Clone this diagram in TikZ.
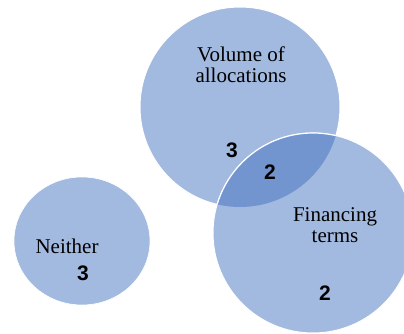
\documentclass[tikz,border=0pt]{standalone}
\usepackage{fontspec}
\setmainfont{Liberation Serif}
\newfontfamily\numfont{Liberation Sans}
\definecolor{vfill}{RGB}{162,185,224}
\definecolor{vover}{RGB}{114,149,207}
\begin{document}
\begin{tikzpicture}[x=1pt,y=-1pt,
  lbl/.style={font=\fontsize{21}{21}\selectfont, align=center, inner sep=0pt, anchor=base},
  num/.style={font=\numfont\bfseries\fontsize{21}{21}\selectfont, inner sep=0pt, anchor=center},
  venn/.style={fill=vfill, draw=white, line width=1pt}]
\useasboundingbox (0,0) rectangle (404,334);
\fill[white] (0,0) rectangle (404,334);
% circles
\path[venn] (240,107) circle[radius=100];
\path[venn] (313,233) circle[radius=100];
\begin{scope}
  \clip (240,107) circle[radius=100];
  \fill[vover] (313,233) circle[radius=100];
  \draw[white, line width=1.2pt] (313,233) circle[radius=100];
\end{scope}
\path[fill=vfill, draw=white, line width=0.6pt] (82,241) ellipse[x radius=68, y radius=64];
% labels
\node[lbl] (vol) at (241,83) {Volume of\\allocations};
\node[lbl] (fin) at (335,242) {Financing\\terms};
\node[lbl] (nei) at (67,253) {Neither};
% numbers
\node[num] (n1) at (232,150) {3};
\node[num] (n12) at (270,172) {2};
\node[num] (n2) at (325,293) {2};
\node[num] (n3) at (83,273) {3};
\end{tikzpicture}
\end{document}
